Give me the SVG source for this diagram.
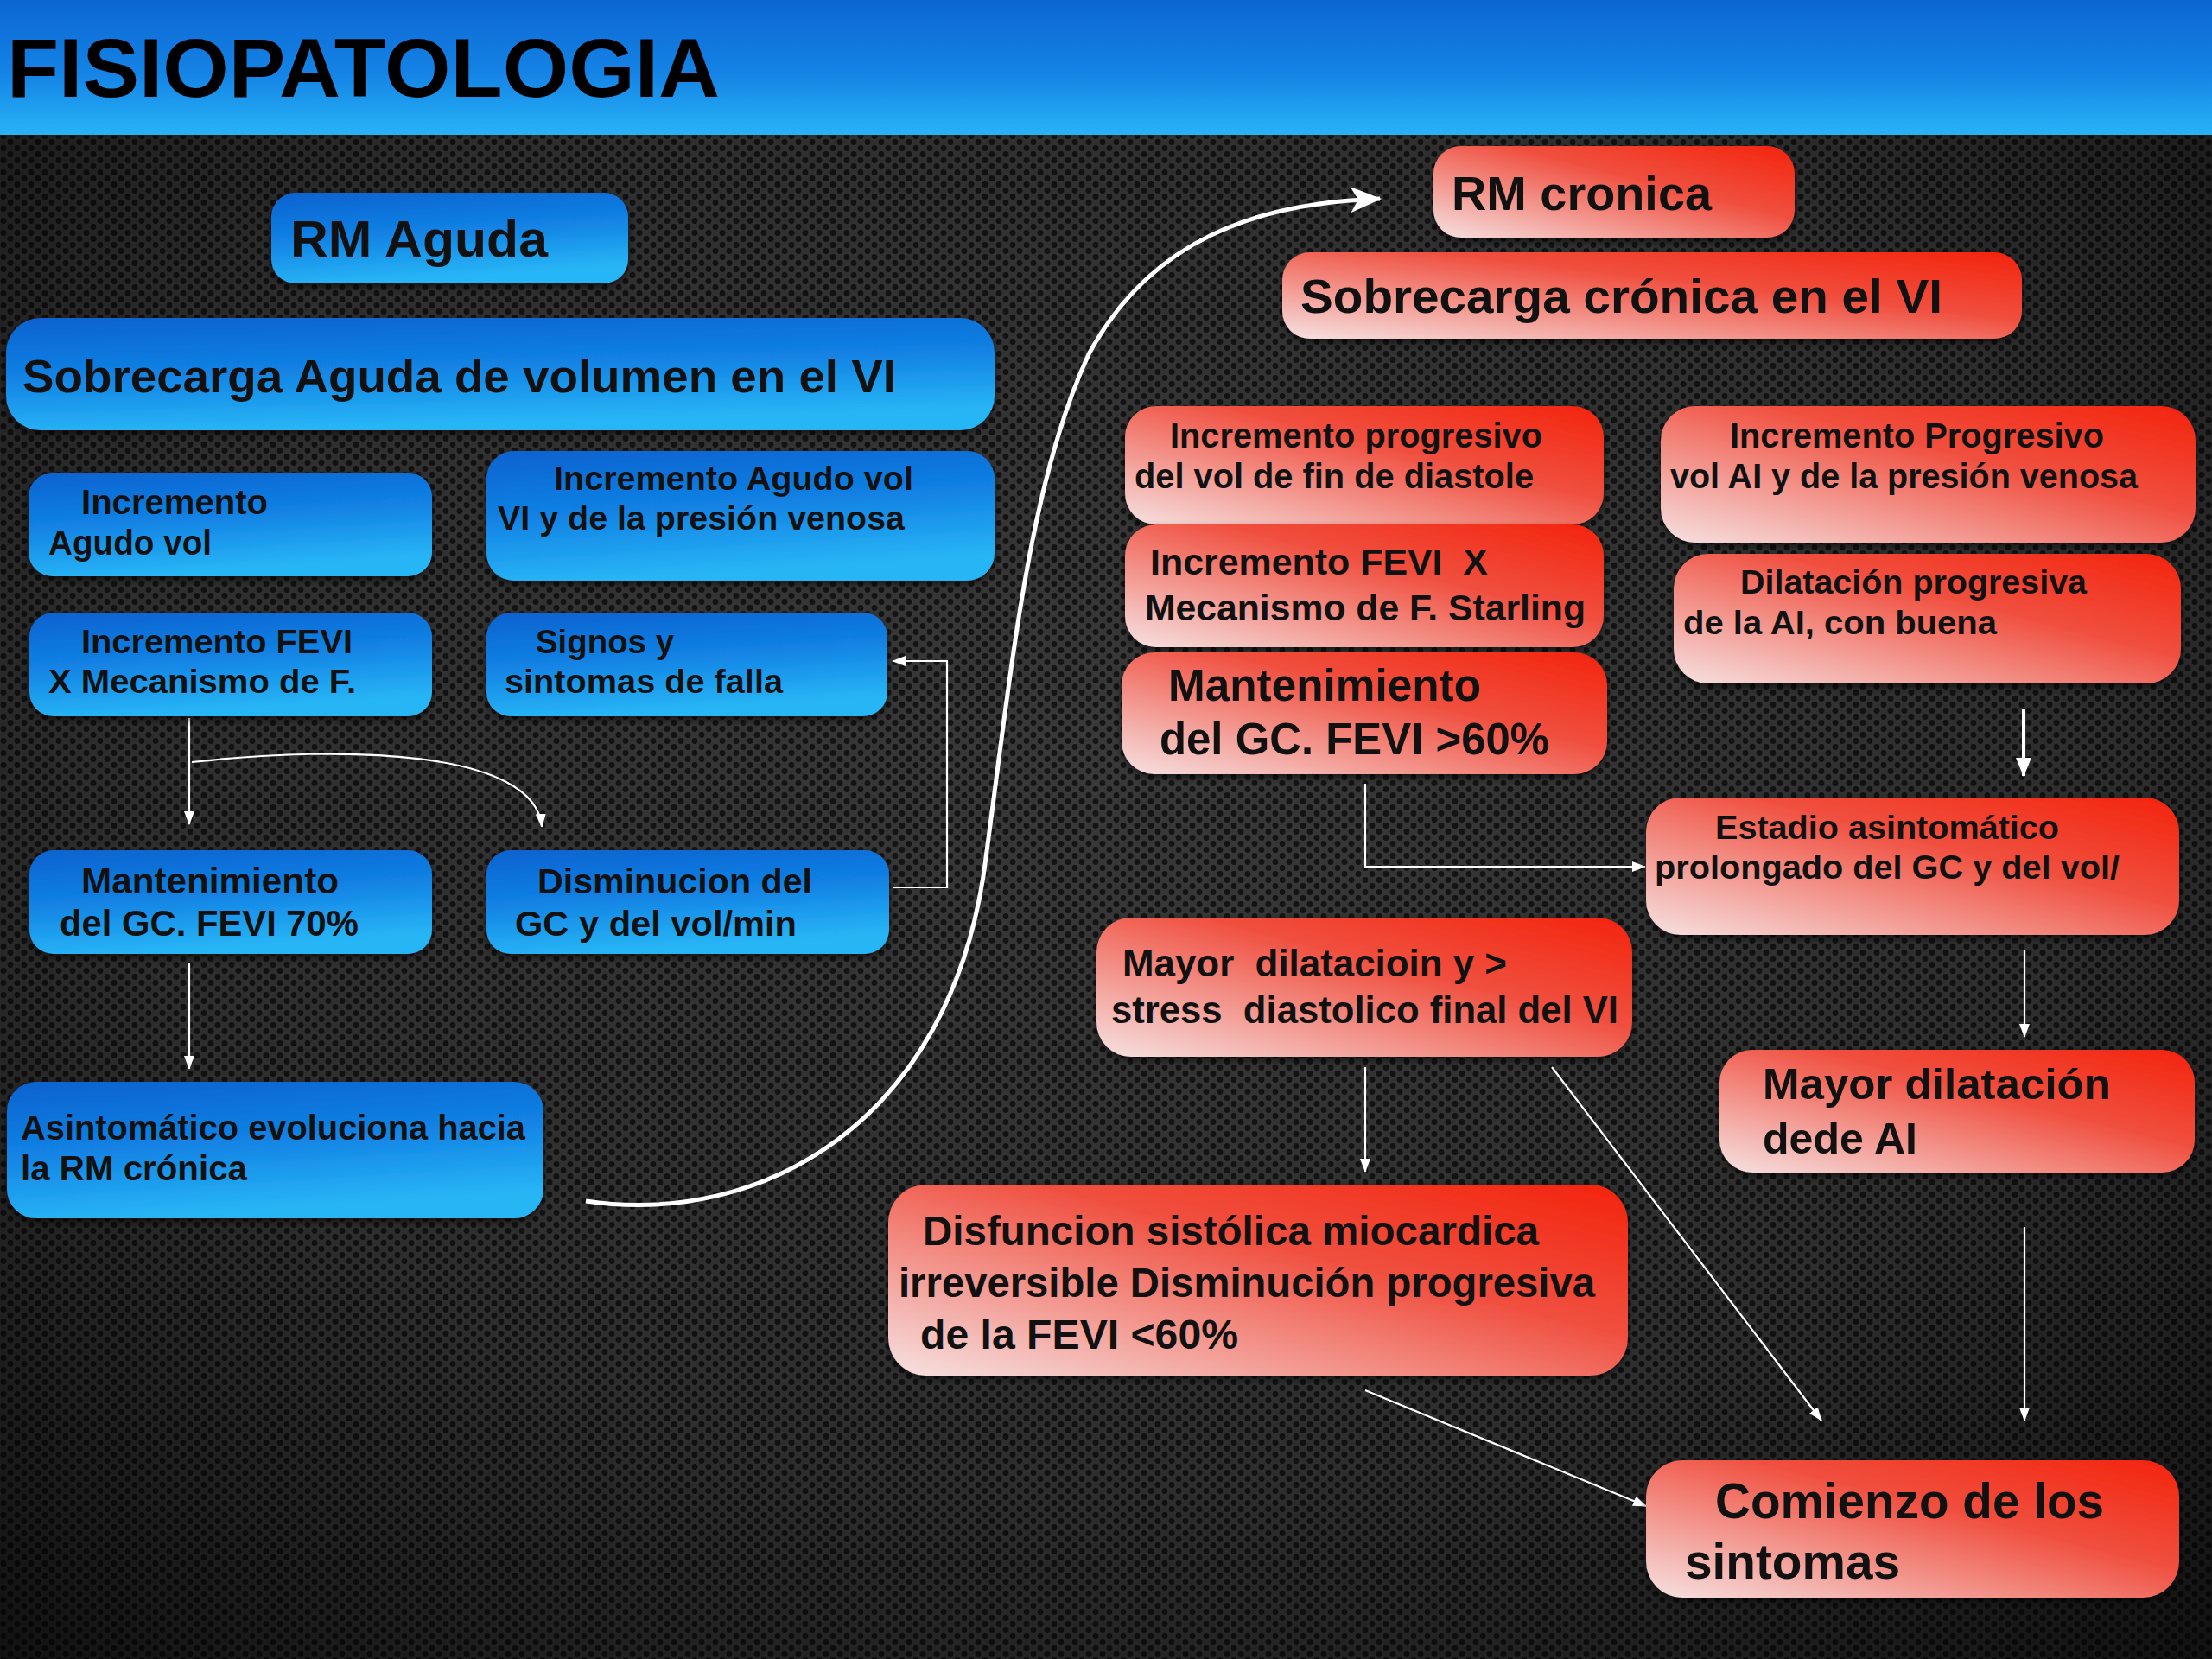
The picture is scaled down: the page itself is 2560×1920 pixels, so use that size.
<svg xmlns="http://www.w3.org/2000/svg" width="2560" height="1920" viewBox="0 0 2560 1920">
<defs>
<pattern id="holes" width="16" height="14" patternUnits="userSpaceOnUse">
<rect width="16" height="14" fill="#393939"/>
<circle cx="4" cy="3.5" r="3.4" fill="#141414"/>
<circle cx="12" cy="10.5" r="3.4" fill="#141414"/>
</pattern>
<radialGradient id="vig" cx="0.5" cy="0.45" r="0.75">
<stop offset="0" stop-color="#000" stop-opacity="0"/>
<stop offset="0.6" stop-color="#000" stop-opacity="0.2"/>
<stop offset="1" stop-color="#000" stop-opacity="0.7"/>
</radialGradient>
<linearGradient id="hdr" x1="0" y1="0" x2="0" y2="1">
<stop offset="0" stop-color="#0c66d2"/>
<stop offset="0.55" stop-color="#1584e6"/>
<stop offset="1" stop-color="#27b3f6"/>
</linearGradient>
<linearGradient id="blue" x1="0" y1="0" x2="0.25" y2="1">
<stop offset="0" stop-color="#0b62cf"/>
<stop offset="0.5" stop-color="#1282e4"/>
<stop offset="1" stop-color="#28b6f6"/>
</linearGradient>
<linearGradient id="red" x1="1" y1="0" x2="0" y2="1">
<stop offset="0" stop-color="#f4230c"/>
<stop offset="0.4" stop-color="#f05040"/>
<stop offset="1" stop-color="#f6e2e2"/>
</linearGradient>
<filter id="sh" x="-5%" y="-10%" width="110%" height="130%">
<feDropShadow dx="0" dy="4" stdDeviation="4" flood-color="#000" flood-opacity="0.6"/>
</filter>
<marker id="ah" markerUnits="userSpaceOnUse" markerWidth="16" markerHeight="12" refX="15" refY="6" orient="auto">
<path d="M0,0 L16,6 L0,12 Z" fill="#fff"/>
</marker>
<marker id="ahm" markerUnits="userSpaceOnUse" markerWidth="22" markerHeight="18" refX="21" refY="9" orient="auto">
<path d="M0,0 L22,9 L0,18 Z" fill="#fff"/>
</marker>
<marker id="ahb" markerUnits="userSpaceOnUse" markerWidth="36" markerHeight="30" refX="34" refY="15" orient="auto">
<path d="M0,0 L36,15 L0,30 L9,15 Z" fill="#fff"/>
</marker>
<style>
text{font-family:"Liberation Sans",Arial,sans-serif;font-weight:bold;fill:#111;}
.b{fill:url(#blue);filter:url(#sh);}
.r{fill:url(#red);filter:url(#sh);}
.c{fill:none;stroke:#fff;stroke-width:2.2;}
.pre{white-space:pre;}
</style>
</defs>

<rect width="2560" height="1920" fill="url(#holes)"/>
<rect width="2560" height="1920" fill="url(#vig)"/>
<rect width="2560" height="156" fill="url(#hdr)"/>
<text x="8" y="112" font-size="97" textLength="825" lengthAdjust="spacingAndGlyphs" style="fill:#000">FISIOPATOLOGIA</text>

<g id="connectors">
<path class="c" d="M678 1390 C880 1420 1100 1300 1140 1000 C1170 780 1190 560 1260 410 C1330 280 1450 235 1597 230" style="stroke-width:5" marker-end="url(#ahb)"/>
<path class="c" d="M219 831 L219 954" marker-end="url(#ah)"/>
<path class="c" d="M222 882 C400 862 620 868 627 957" marker-end="url(#ah)"/>
<path class="c" d="M219 1114 L219 1237" marker-end="url(#ah)"/>
<path class="c" d="M1033 1027 L1096 1027 L1096 765 L1033 765" marker-end="url(#ah)"/>
<path class="c" d="M2342 820 L2342 898" style="stroke-width:4" marker-end="url(#ahm)"/>
<path class="c" d="M1580 907 L1580 1003 L1904 1003" marker-end="url(#ah)"/>
<path class="c" d="M2343 1099 L2343 1200" marker-end="url(#ah)"/>
<path class="c" d="M1580 1235 L1580 1356" marker-end="url(#ah)"/>
<path class="c" d="M1796 1235 L2108 1644" marker-end="url(#ah)"/>
<path class="c" d="M2343 1420 L2343 1644" marker-end="url(#ah)"/>
<path class="c" d="M1580 1609 L1905 1743" marker-end="url(#ah)"/>
</g>

<g id="n-rm-aguda"><rect class="b" x="314" y="223" width="413" height="105" rx="28"/>
<text x="336" y="297" font-size="59" textLength="298" lengthAdjust="spacingAndGlyphs">RM Aguda</text></g>

<g id="n-sobrecarga-aguda"><rect class="b" x="7" y="368" width="1144" height="130" rx="40"/>
<text x="26" y="454" font-size="54" textLength="1011" lengthAdjust="spacingAndGlyphs">Sobrecarga Aguda de volumen en el VI</text></g>

<g id="n-inc-agudo"><rect class="b" x="33" y="547" width="467" height="120" rx="28"/>
<text x="94" y="595" font-size="40" textLength="216" lengthAdjust="spacingAndGlyphs">Incremento</text>
<text x="56" y="642" font-size="40" textLength="189" lengthAdjust="spacingAndGlyphs">Agudo vol</text></g>

<g id="n-inc-agudo-vi"><rect class="b" x="563" y="522" width="588" height="150" rx="32"/>
<text x="641" y="567" font-size="39.5" textLength="416" lengthAdjust="spacingAndGlyphs">Incremento Agudo vol</text>
<text x="576" y="613" font-size="39.5" textLength="471" lengthAdjust="spacingAndGlyphs">VI y de la presión venosa</text></g>

<g id="n-inc-fevi"><rect class="b" x="34" y="709" width="466" height="120" rx="28"/>
<text x="94" y="756" font-size="39.5" textLength="314" lengthAdjust="spacingAndGlyphs">Incremento FEVI</text>
<text x="56" y="802" font-size="39.5" textLength="356" lengthAdjust="spacingAndGlyphs">X Mecanismo de F.</text></g>

<g id="n-signos"><rect class="b" x="563" y="709" width="464" height="120" rx="28"/>
<text x="620" y="756" font-size="39.5" textLength="160" lengthAdjust="spacingAndGlyphs">Signos y</text>
<text x="584" y="802" font-size="39.5" textLength="322" lengthAdjust="spacingAndGlyphs">sintomas de falla</text></g>

<g id="n-mant-70"><rect class="b" x="34" y="984" width="466" height="120" rx="28"/>
<text x="94" y="1034" font-size="42" textLength="298" lengthAdjust="spacingAndGlyphs">Mantenimiento</text>
<text x="69" y="1083" font-size="42" textLength="346" lengthAdjust="spacingAndGlyphs">del GC. FEVI 70%</text></g>

<g id="n-disminucion"><rect class="b" x="563" y="984" width="466" height="120" rx="28"/>
<text x="622" y="1034" font-size="41.5" textLength="318" lengthAdjust="spacingAndGlyphs">Disminucion del</text>
<text x="596" y="1083" font-size="41.5" textLength="326" lengthAdjust="spacingAndGlyphs">GC y del vol/min</text></g>

<g id="n-asintomatico"><rect class="b" x="8" y="1252" width="621" height="158" rx="34"/>
<text x="24" y="1319" font-size="40" textLength="584" lengthAdjust="spacingAndGlyphs">Asintomático evoluciona hacia</text>
<text x="24" y="1366" font-size="40" textLength="262" lengthAdjust="spacingAndGlyphs">la RM crónica</text></g>

<g id="n-rm-cronica"><rect class="r" x="1659" y="169" width="418" height="106" rx="32"/>
<text x="1680" y="243" font-size="56" textLength="301" lengthAdjust="spacingAndGlyphs">RM cronica</text></g>

<g id="n-sobrecarga-cronica"><rect class="r" x="1484" y="292" width="856" height="100" rx="32"/>
<text x="1505" y="362" font-size="56" textLength="743" lengthAdjust="spacingAndGlyphs">Sobrecarga crónica en el VI</text></g>

<g id="n-inc-progresivo"><rect class="r" x="1302" y="470" width="554" height="137" rx="36"/>
<text x="1354" y="518" font-size="40" textLength="431" lengthAdjust="spacingAndGlyphs">Incremento progresivo</text>
<text x="1313" y="565" font-size="40" textLength="462" lengthAdjust="spacingAndGlyphs">del vol de fin de diastole</text></g>

<g id="n-inc-progresivo-ai"><rect class="r" x="1922" y="470" width="619" height="158" rx="40"/>
<text x="2002" y="518" font-size="40" textLength="433" lengthAdjust="spacingAndGlyphs">Incremento Progresivo</text>
<text x="1933" y="565" font-size="40" textLength="541" lengthAdjust="spacingAndGlyphs">vol AI y de la presión venosa</text></g>

<g id="n-inc-fevi-starling"><rect class="r" x="1302" y="607" width="554" height="142" rx="36"/>
<text class="pre" x="1331" y="665" font-size="42.5" textLength="391" lengthAdjust="spacingAndGlyphs">Incremento FEVI  X</text>
<text x="1325" y="718" font-size="42.5" textLength="510" lengthAdjust="spacingAndGlyphs">Mecanismo de F. Starling</text></g>

<g id="n-dilatacion-progresiva"><rect class="r" x="1937" y="641" width="587" height="150" rx="40"/>
<text x="2014" y="687" font-size="39.5" textLength="401" lengthAdjust="spacingAndGlyphs">Dilatación progresiva</text>
<text x="1948" y="734" font-size="39.5" textLength="363" lengthAdjust="spacingAndGlyphs">de la AI, con buena</text></g>

<g id="n-mant-60"><rect class="r" x="1298" y="755" width="562" height="141" rx="38"/>
<text x="1352" y="811" font-size="51" textLength="362" lengthAdjust="spacingAndGlyphs">Mantenimiento</text>
<text x="1342" y="873" font-size="51" textLength="451" lengthAdjust="spacingAndGlyphs">del GC. FEVI &gt;60%</text></g>

<g id="n-estadio"><rect class="r" x="1905" y="923" width="617" height="159" rx="40"/>
<text x="1985" y="971" font-size="39.6" textLength="398" lengthAdjust="spacingAndGlyphs">Estadio asintomático</text>
<text x="1915" y="1017" font-size="39.6" textLength="538" lengthAdjust="spacingAndGlyphs">prolongado del GC y del vol/</text></g>

<g id="n-mayor-dilatacioin"><rect class="r" x="1269" y="1062" width="620" height="161" rx="40"/>
<text class="pre" x="1299" y="1130" font-size="43.7" textLength="445" lengthAdjust="spacingAndGlyphs">Mayor  dilatacioin y &gt;</text>
<text class="pre" x="1286" y="1184" font-size="43.7" textLength="587" lengthAdjust="spacingAndGlyphs">stress  diastolico final del VI</text></g>

<g id="n-mayor-dilatacion-ai"><rect class="r" x="1990" y="1215" width="550" height="142" rx="38"/>
<text x="2040" y="1272" font-size="50" textLength="403" lengthAdjust="spacingAndGlyphs">Mayor dilatación</text>
<text x="2040" y="1335" font-size="50" textLength="179" lengthAdjust="spacingAndGlyphs">dede AI</text></g>

<g id="n-disfuncion"><rect class="r" x="1028" y="1371" width="856" height="221" rx="44"/>
<text x="1068" y="1441" font-size="47.5" textLength="713" lengthAdjust="spacingAndGlyphs">Disfuncion sistólica miocardica</text>
<text x="1040" y="1501" font-size="47.5" textLength="806" lengthAdjust="spacingAndGlyphs">irreversible Disminución progresiva</text>
<text x="1065" y="1561" font-size="47.5" textLength="368" lengthAdjust="spacingAndGlyphs">de la FEVI &lt;60%</text></g>

<g id="n-comienzo"><rect class="r" x="1905" y="1690" width="617" height="159" rx="42"/>
<text x="1985" y="1757" font-size="56.5" textLength="450" lengthAdjust="spacingAndGlyphs">Comienzo de los</text>
<text x="1950" y="1827" font-size="56.5" textLength="249" lengthAdjust="spacingAndGlyphs">sintomas</text></g>
</svg>
